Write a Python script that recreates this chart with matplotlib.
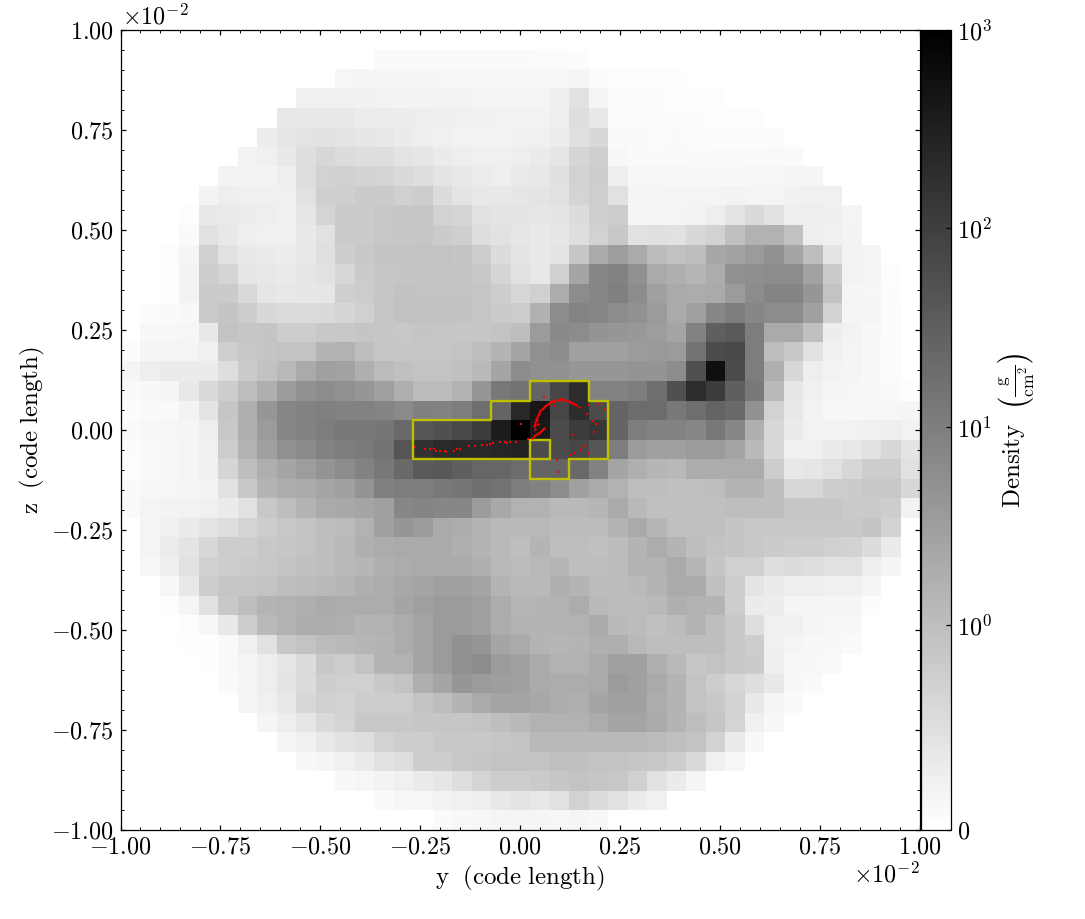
import numpy as np
import matplotlib
matplotlib.use("Agg")
import matplotlib.pyplot as plt
from matplotlib.colors import SymLogNorm
from matplotlib.cm import ScalarMappable
from matplotlib.collections import LineCollection
from matplotlib.ticker import FixedLocator, FixedFormatter, NullLocator

plt.rcParams['font.family'] = ['cmr10', 'DejaVu Serif']
plt.rcParams['mathtext.fontset'] = 'cm'
plt.rcParams['axes.unicode_minus'] = False
plt.rcParams['axes.formatter.use_mathtext'] = True
plt.rcParams['axes.linewidth'] = 0.9

# Position of each cell on the colour bar, read as 255 (bottom, density 0) .. 0 (top, density 1000)
cells_left = [
 [255]*21,
 [255]*13+[250,250,250,250,250,250,250,250],
 [255]*11+[246,245,245,245,245,246,247,247,247,247],
 [255]*9+[240,240,240,241,242,243,243,243,243,244,244,244],
 [255]*8+[232,232,232,232,236,236,237,238,239,240,241,242,242],
 [255]*7+[237,230,227,226,228,230,232,235,238,240,242,243,242,240],
 [255]*6+[243,240,232,222,215,220,222,222,228,230,235,238,240,240,238],
 [255]*5+[243,243,243,238,222,210,208,211,212,218,222,228,232,236,238,234],
 [255]*4+[243,238,240,240,240,225,207,207,203,203,208,205,220,228,232,232,230],
 [255]*3+[253,233,234,236,238,240,230,212,202,203,200,198,198,210,213,225,228,228],
 [255]*3+[250,225,232,238,240,241,233,225,203,203,200,198,198,203,207,222,226,230],
 [255,255,253,245,208,225,233,235,237,233,223,205,200,197,196,195,195,197,205,220,228],
 [255,255,254,243,205,213,229,232,234,230,226,215,203,198,197,196,195,195,200,213,225],
 [255,255,254,243,203,203,217,230,232,231,230,207,204,198,194,195,195,195,198,205,215],
 [255,252,250,248,203,197,205,216,219,219,218,214,208,198,193,194,194,194,198,203,205],
 [255,248,247,246,232,195,198,197,205,205,200,200,197,198,200,197,198,199,198,195,190],
 [252,245,244,244,240,207,200,197,195,195,180,178,190,198,198,198,198,196,190,180,165],
 [245,238,235,235,235,222,203,194,185,170,160,162,175,187,192,195,195,192,185,165,140],
 [250,248,245,232,218,205,190,175,155,145,140,145,150,160,175,188,188,178,150,120,115],
 [252,250,250,243,228,198,175,150,135,130,128,130,130,132,138,128,130,125,110,100,40],
 [250,248,246,245,238,200,175,155,135,130,125,120,120,118,105,85,80,72,60,28,0],
 [252,250,247,245,240,205,178,160,145,138,130,125,122,115,85,50,42,40,40,38,35],
 [253,250,247,245,240,213,190,175,165,157,148,140,130,120,105,90,88,95,102,102,108],
 [250,248,246,245,243,225,200,180,172,170,165,160,148,128,125,125,120,118,112,115,125],
 [250,244,243,242,240,235,225,200,190,180,170,168,165,160,135,132,135,135,155,168,178],
 [255,244,240,235,228,222,212,205,200,195,190,187,178,160,150,155,170,172,180,185,185],
 [255,244,236,228,215,205,205,200,198,195,190,185,175,172,170,170,170,175,180,185,190],
 [255,247,238,225,208,205,203,200,196,192,190,185,182,175,172,170,170,170,175,185,188],
 [255,255,247,232,205,198,198,195,190,188,185,182,175,172,168,165,160,160,165,180,185],
 [255,255,253,245,225,200,190,180,178,175,170,172,172,172,165,160,155,155,160,172,182],
 [255,255,255,253,247,233,205,185,178,172,172,175,180,178,172,165,155,155,160,172,178],
 [255,255,255,254,253,250,240,225,200,195,188,185,182,180,172,165,155,145,150,165,170],
 [255,255,255,255,254,249,245,238,230,220,200,205,195,180,178,165,155,145,140,155,160],
 [255]*5+[250,245,238,228,220,205,208,208,200,195,175,165,150,155,158,160],
 [255]*6+[245,240,232,215,208,210,205,205,205,195,190,180,170,165,165],
 [255]*7+[245,238,230,218,212,200,200,200,198,198,198,195,190,185],
 [255]*8+[245,240,232,225,222,210,205,205,200,200,200,198,195],
 [255]*9+[248,245,240,235,225,222,205,205,200,198,195,195],
 [255]*11+[248,246,243,240,235,230,222,212,205,205],
 [255]*13+[250,247,246,243,240,238,232,228],
 [255]*16+[250,248,247,245,245],
]
cells_right = [
 [255]*20,
 [251,251,252]+[255]*17,
 [248,248,245,252,253,253,253,253]+[255]*12,
 [244,238,226,245,252,252,252,253,253,253]+[255]*10,
 [242,238,222,233,252,252,252,252,252,253,253,253]+[255]*8,
 [240,236,224,216,250,250,251,250,251,252,252,252,252]+[255]*7,
 [235,229,214,207,247,250,250,250,250,250,250,250,249,250]+[255]*6,
 [232,224,210,205,238,247,247,247,248,248,248,247,246,245,245]+[255]*5,
 [228,225,212,206,225,245,245,244,244,244,243,245,244,241,240,240]+[255]*4,
 [230,228,220,207,205,245,244,244,243,238,228,218,226,238,238,239,244]+[255]*3,
 [233,230,222,210,200,225,224,225,216,210,192,178,178,193,238,240,243]+[255]*3,
 [233,228,198,170,157,170,188,193,190,167,163,155,145,165,190,228,243,245]+[255]*2,
 [232,208,165,135,130,145,170,175,182,172,145,142,140,140,162,203,243,245,253,255],
 [208,172,140,135,128,140,160,170,172,170,155,140,132,132,150,195,245,246,252,255],
 [177,140,132,135,140,145,155,170,160,135,125,135,140,140,160,210,245,245,251,255],
 [155,137,140,148,150,152,157,165,130,95,90,125,170,170,192,237,243,247,251,255],
 [145,140,160,160,160,155,153,155,115,75,72,125,190,200,225,240,244,248,251,255],
 [145,145,150,150,150,148,148,140,80,15,75,125,175,215,238,243,245,248,251,255],
 [100,70,45,130,130,125,110,80,45,60,95,120,185,230,240,245,246,248,250,253],
 [22,70,45,75,100,108,108,120,110,100,105,145,210,232,243,247,248,247,246,245],
 [25,75,60,55,100,125,130,130,135,120,135,175,215,235,242,242,242,240,238,242],
 [75,75,70,85,125,155,160,160,155,155,165,185,215,240,240,235,232,225,215,228],
 [100,100,105,130,165,175,182,185,172,172,172,172,205,232,230,225,215,205,205,225],
 [130,140,160,170,178,190,190,192,192,190,180,180,190,215,215,205,203,200,200,215],
 [178,185,185,182,170,185,192,192,192,192,190,190,190,198,198,198,202,202,205,242],
 [185,188,188,188,180,170,182,192,192,192,197,200,200,200,200,200,200,197,210,255],
 [180,190,190,192,188,180,172,180,190,195,197,200,203,205,205,208,210,220,235,255],
 [185,182,190,190,188,180,178,170,182,197,208,208,222,220,222,225,225,238,245,255],
 [185,175,180,188,188,185,180,170,170,192,205,228,235,238,238,240,240,245,255,255],
 [180,178,172,185,188,188,185,175,178,180,205,235,237,245,245,245,245,252,255,255],
 [180,180,178,170,185,188,192,188,180,190,200,222,240,240,245,247,248,255,255,255],
 [180,182,180,175,175,185,190,190,190,190,200,205,240,245,247,248,250,255,255,255],
 [170,178,178,170,160,160,175,185,198,195,200,203,238,248,248,250,255,255,255,255],
 [170,172,172,170,155,160,170,180,195,205,215,222,232,248,250,255,255,255,255,255],
 [168,172,175,165,160,160,172,180,195,200,210,232,245,250]+[255]*6,
 [178,178,178,172,165,165,170,180,190,198,212,240,248]+[255]*7,
 [185,185,185,185,185,185,188,192,195,210,235,248]+[255]*8,
 [195,192,192,195,195,198,200,205,218,240,246]+[255]*9,
 [202,198,195,198,200,208,225,235,245]+[255]*11,
 [232,225,210,220,225,235,240]+[255]*13,
 [245,247,245,248]+[255]*16,
]
# Outlined region: (row, first column, last column); one cell of row 21 is a hole
region_rows = [(18,21,23),(19,19,24),(20,15,24),(21,15,20),(21,22,24),(22,21,22)]

# Red particles, code length / 1e-2: the dense arc, then the scattered ones
arc_y = [.1458,.14,.1333,.125,.1167,.1083,.1,.0917,.0833,.075,.0683,.0625,.0567,.05,.0458,.0417,.0383,.0367,.035,.0367,
 .1292,.1208,.1125,.1042,.0958,.0875,.0792,.0717,.065,.0592,.0533,.0475,.0433,.04,.0375,.0358,.0417,.0433,
 .06,.0542,.0483,.0417,.0333,.03,.0567,.0508,.045,.0375]
arc_z = [.0571,.0612,.0654,.0696,.0729,.0754,.0763,.0746,.0729,.0696,.0654,.0596,.0554,.0488,.0404,.0321,.0238,.0154,.0088,.0029,
 .0679,.0713,.0746,.0763,.0754,.0738,.0713,.0679,.0629,.0571,.0521,.0446,.0363,.0279,.0196,.0121,.0254,.0154,
 .0046,.0004,-.0046,-.0113,-.0163,-.0196,.0029,-.0021,-.0079,-.0138]
scatter_y = [.06,.0875,.0017,.1708,.1975,.2083,.1667,.1817,.1883,.185,.1308,.1625,.15,.1375,.125,.1692,.0917,.095,.0192,
 -.0108,-.025,-.0333,-.0392,-.05,-.0683,-.075,-.0833,-.0958,-.1125,-.1292,-.15,-.1583,-.1667,-.1858,-.1875,-.2,-.21,-.2167,-.225,-.2375,-.2642]
scatter_z = [.0821,.0588,.0138,.0629,.0654,.0521,.0404,.0229,.0154,-.0063,-.0129,-.0413,-.0513,-.0571,-.0638,-.0579,-.0746,-.1063,-.0238,
 -.0313,-.0304,-.0321,-.0304,-.0296,-.0321,-.0363,-.0388,-.0379,-.0413,-.0413,-.0471,-.0479,-.0529,-.0563,-.0529,-.0529,-.0529,-.0471,-.0471,-.0471,-.0429]

tick_values = [-1.0,-0.75,-0.5,-0.25,0.0,0.25,0.5,0.75,1.0]
tick_labels = ['$-1.00$','$-0.75$','$-0.50$','$-0.25$','$0.00$','$0.25$','$0.50$','$0.75$','$1.00$']
cbar_ticks = [0,1,10,100,1000]
cbar_labels = ['$0$','$10^{0}$','$10^{1}$','$10^{2}$','$10^{3}$']

W, H = 1085, 919
FS = 17.4
fig = plt.figure(figsize=(W/100, H/100), dpi=100)
ax = fig.add_axes([120.5/W, (H-829.5)/H, 799.5/W, 799.5/H])
cax = fig.add_axes([920.5/W, (H-829.5)/H, 30/W, 799.5/H])

norm = SymLogNorm(linthresh=1, linscale=0.925, vmin=0, vmax=1000, base=10)
shade = np.hstack([np.array(cells_left), np.array(cells_right)])
density = norm.inverse(1 - shade/255.0)
n = shade.shape[0]
edges = np.linspace(-1, 1, n+1)
ax.pcolormesh(edges, edges[::-1], density, cmap='gray_r', norm=norm, shading='flat')

# outline: every cell edge between an in-region cell and an out-of-region cell
mask = np.zeros((n+2, n+2), dtype=bool)
for r, c0, c1 in region_rows:
    mask[r+1, c0+1:c1+2] = True
top = edges[::-1]
segs = []
for r in range(n):
    for c in range(n):
        if mask[r+1, c+1]:
            if not mask[r, c+1]:
                segs.append([(edges[c], top[r]), (edges[c+1], top[r])])
            if not mask[r+2, c+1]:
                segs.append([(edges[c], top[r+1]), (edges[c+1], top[r+1])])
            if not mask[r+1, c]:
                segs.append([(edges[c], top[r]), (edges[c], top[r+1])])
            if not mask[r+1, c+2]:
                segs.append([(edges[c+1], top[r]), (edges[c+1], top[r+1])])
ax.add_collection(LineCollection(segs, colors='#bfbf00', linewidths=1.7, capstyle='round', zorder=3))

ax.scatter(arc_y, arc_z, s=3, c='red', marker='o', linewidths=0, zorder=5)
ax.scatter(scatter_y, scatter_z, s=2.2, c='red', marker='s', linewidths=0, zorder=5)

ax.set_xlim(-1, 1); ax.set_ylim(-1, 1)
for axis in (ax.xaxis, ax.yaxis):
    axis.set_major_locator(FixedLocator(tick_values))
    axis.set_major_formatter(FixedFormatter(tick_labels))
    axis.set_minor_locator(FixedLocator(np.arange(-20, 21)*0.05))
ax.tick_params(which='major', direction='in', length=3.6, width=0.9, top=True, right=True, labelsize=FS, pad=5)
ax.tick_params(which='minor', direction='in', length=2.2, width=0.7, top=True, right=True)
ax.set_xlabel(r'$\mathrm{y\ \ (code\ length)}$', fontsize=17.9, labelpad=4)
ax.set_ylabel(r'$\mathrm{z\ \ (code\ length)}$', fontsize=17.9, labelpad=3)
fig.text(122/W, 1-17/H, r'$\times 10^{-2}$', fontsize=17.4, ha='left', va='center')
fig.text(920/W, 1-875/H, r'$\times 10^{-2}$', fontsize=17.4, ha='right', va='center')

cb = fig.colorbar(ScalarMappable(norm=norm, cmap='gray_r'), cax=cax)
cb.set_ticks(cbar_ticks)
cb.set_ticklabels(cbar_labels)
cb.ax.yaxis.set_minor_locator(NullLocator())
cb.ax.tick_params(which='major', direction='in', length=3.4, width=0.9, labelsize=17.4, pad=4.5)
cb.set_label(r'$\mathrm{Density}\ \ \left(\frac{\mathrm{g}}{\mathrm{cm}^{2}}\right)$', fontsize=18, labelpad=3)

fig.savefig('out.png', dpi=100)
